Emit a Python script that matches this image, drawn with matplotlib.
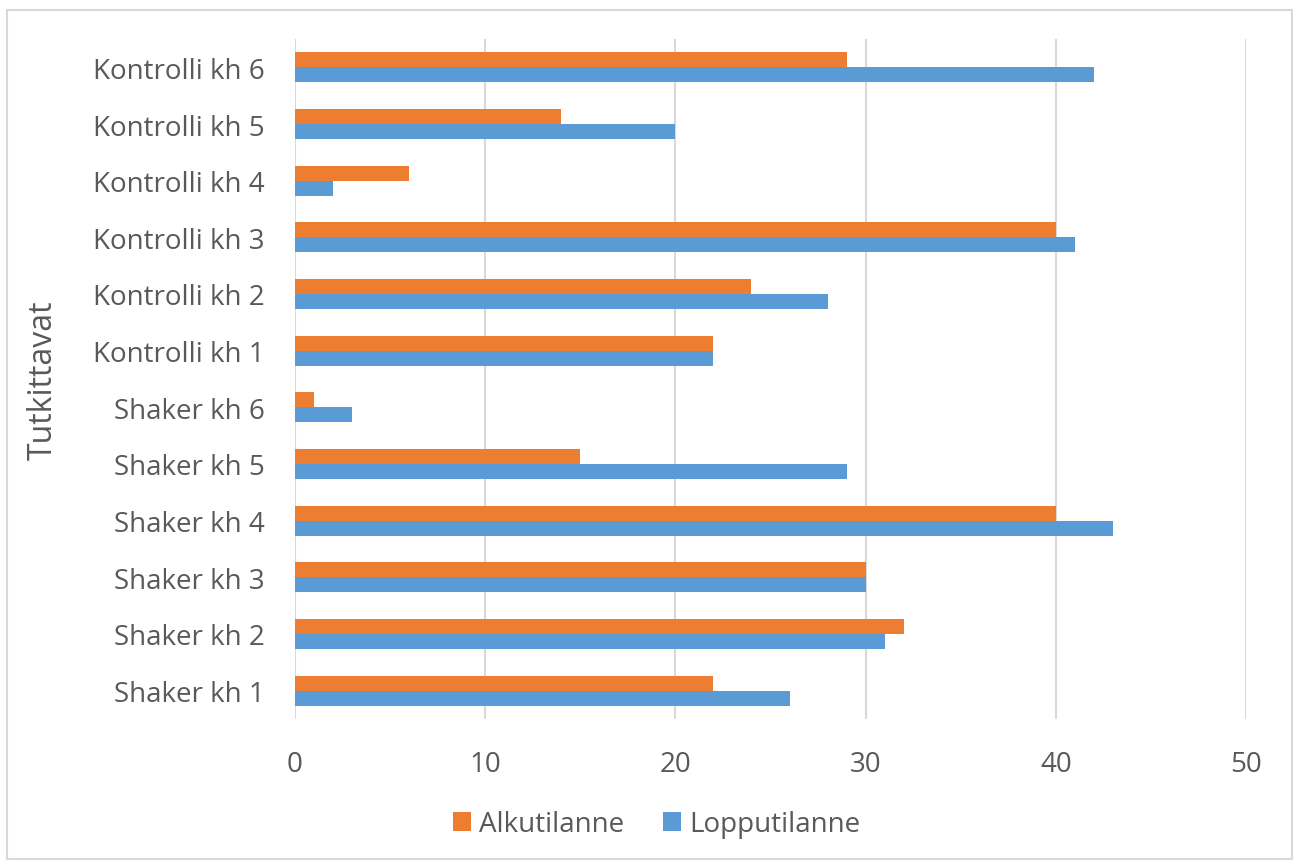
import matplotlib.pyplot as plt
import numpy as np
from matplotlib.patches import Rectangle

categories = ['Shaker kh 1', 'Shaker kh 2', 'Shaker kh 3', 'Shaker kh 4', 'Shaker kh 5', 'Shaker kh 6',
              'Kontrolli kh 1', 'Kontrolli kh 2', 'Kontrolli kh 3', 'Kontrolli kh 4', 'Kontrolli kh 5', 'Kontrolli kh 6']
alkutilanne = [22, 32, 30, 40, 15, 1, 22, 24, 40, 6, 14, 29]
lopputilanne = [26, 31, 30, 43, 29, 3, 22, 28, 41, 2, 20, 42]

plt.rcParams['font.family'] = ['Open Sans', 'DejaVu Sans']
text_color = '#595959'

fig = plt.figure(figsize=(12.93, 8.62), dpi=100)
ax = fig.add_axes([295 / 1293, 1 - 720 / 862, (1246 - 295) / 1293, 680 / 862])

y = np.arange(len(categories))
h = 0.265
ax.barh(y - h / 2, lopputilanne, height=h, color='#5B9BD5', label='Lopputilanne', zorder=3)
ax.barh(y + h / 2, alkutilanne, height=h, color='#ED7D31', label='Alkutilanne', zorder=3)

ax.set_xlim(0, 50)
ax.set_ylim(-0.5, len(categories) - 0.5)
ax.set_xticks(range(0, 51, 10))
ax.set_yticks(y)
ax.set_yticklabels(categories)
ax.tick_params(axis='both', length=0, labelsize=20, colors=text_color)
ax.tick_params(axis='x', pad=22)
ax.tick_params(axis='y', pad=22)
ax.grid(axis='x', color='#D9D9D9', linewidth=1.5, zorder=0)
for s in ax.spines.values():
    s.set_visible(False)

ax.set_ylabel('Tutkittavat', fontsize=23, color=text_color, labelpad=24)

handles, labels = ax.get_legend_handles_labels()
fig.legend(handles[::-1], labels[::-1], loc='center', bbox_to_anchor=(0.508, 1 - 825 / 862), ncol=2,
           frameon=False, fontsize=20, labelcolor=text_color, handlelength=0.65, handleheight=0.65,
           handletextpad=0.3, columnspacing=1.4)

# outer chart border
fig.patches.append(Rectangle((7 / 1293, 0.002), 1285 / 1293, 1 - 11 / 862 - 0.002, transform=fig.transFigure,
                             fill=False, edgecolor='#D9D9D9', linewidth=1.5))

plt.savefig('out.png', dpi=100)
